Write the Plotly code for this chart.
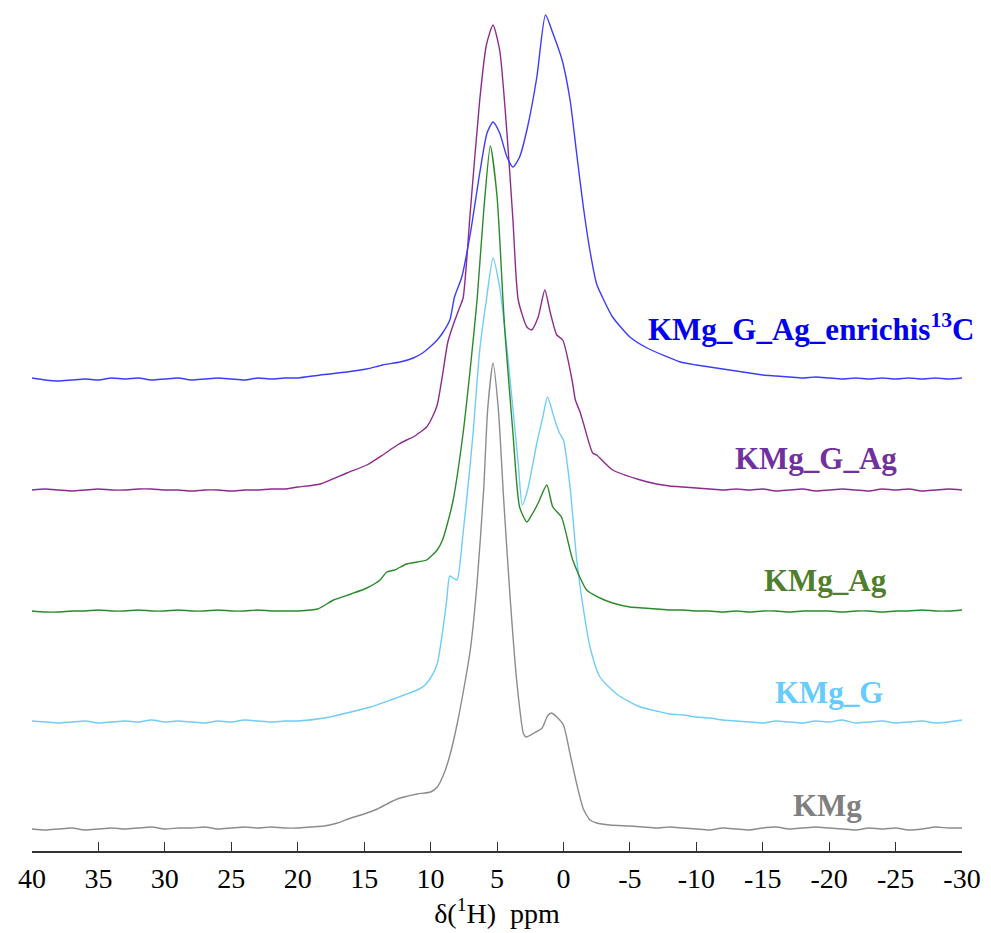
import plotly.graph_objects as go

# ---------------- data (chemical shift in ppm, intensity above each trace's baseline)
ppm_kmg = [40,39,38,37,36,35,34,33,32,31,30,29,28,27,26,25,24,23,22,21,
           20,19,18,17,16,15,14,13,12.5,12,11,10,9.5,9,8.5,8,7.5,7,6.5,6,
           5.7,5.3,4.9,4.5,4.0,3.5,3.0,2.8,2.2,1.6,1.2,0.9,0.5,0,-0.5,-1,-1.5,-2,-2.5,-3.5,
           -5,-6,-7,-8,-9,-10,-11,-12,-13,-14,-15,-16,-17,-18,-19,-20,-21,-22,-23,-24,-25,-26,-27,-28,-29,-30]
int_kmg = [0,-1,0,1,-1,0,1,0,1,2,0,1,1,2,0,1,2,1,2,1,
           1,2,3,6,11,15,20,27,30,32,35,37,42,55,76,105,140,180,246,340,
           420,466,420,330,229,146,95,92,96,101,113,116,112,104,75,45,20,9,6,4,
           3,2,1,2,1,0,-1,1,0,-1,1,2,0,1,2,1,0,-1,1,0,1,-1,0,2,1,1]

ppm_kmg_g = [40,39,38,37,36,35,34,33,32,31,30,29,28,27,26,25,24,23,22,21,
             20,18,16,14.5,13,12,11,10.5,10,9.5,9.1,8.8,8.55,8.2,8.0,7.55,7.0,6.8,6.3,5.8,
             5.3,4.8,4.6,4.2,3.8,3.4,3.1,2.7,2.0,1.55,1.2,0.65,0.3,0.0,-0.5,-1.0,-1.4,-2.0,-2.75,-4.1,-5.8,
             -7,-8,-9,-10,-11,-12,-13,-14,-15,-16,-17,-18,-19,-20,-21,-22,-23,-24,-25,-26,-27,-28,-29,-30]
int_kmg_g = [1,0,-1,0,1,-1,0,1,0,2,0,1,0,-1,1,0,2,1,0,1,
             1,4,10,15,22,27,32,36,44,58,90,120,146,143,142,189,260,289,372,422,
             464,435,415,367,313,258,217,232,279,305,325,302,289,282,235,162,122,75,45,27,15,
             11,8,7,5,4,2,1,0,-1,1,0,-1,1,0,2,-1,0,1,-1,0,1,-1,0,2]

ppm_kmg_ag = [40,39,38,37,36,35,34,33,32,31,30,29,28,27,26,25,24,23,22,21,
              20,18.5,17.3,16,14.8,13.8,13.3,12.7,11.8,11,10.3,9.5,9.1,8.8,8.3,7.55,7.0,6.5,6.0,5.5,
              5.0,4.55,4.4,3.8,3.3,2.75,2.3,1.9,1.25,0.8,0.15,-0.7,-1.75,-2.75,-3.7,-5,
              -6,-7,-8,-9,-10,-11,-12,-13,-14,-15,-16,-17,-18,-19,-20,-21,-22,-23,-24,-25,-26,-27,-28,-29,-30]
int_kmg_ag = [0,-1,-1,0,0,1,0,0,1,0,0,1,0,0,1,0,0,1,0,0,
              0,2,11,17,23,31,39,41,47,49,51,61,71,84,111,178,244,311,400,465,
              415,311,278,178,104,89,98,108,126,104,94,51,21,13,8,4,
              3,2,1,1,0,0,-1,0,-1,0,0,-1,0,0,0,-1,0,0,-1,0,0,1,0,0,1]

ppm_kmg_g_ag = [40,39,38,37,36,35,34,33,32,31,30,29,28,27,26,25,24,23,22,21,
                20,18.3,16.3,14.8,13.6,12.5,11.8,11.3,10.3,9.9,9.5,9.1,8.7,8.3,7.8,7.55,7.0,6.3,5.8,
                5.3,4.8,4.25,3.8,3.4,2.75,2.4,1.9,1.4,1.0,0.5,0.05,-0.65,-0.9,-1.25,-1.5,-2.2,-2.5,-3.7,-5.8,
                -7,-8,-9,-10,-11,-12,-13,-14,-15,-16,-17,-18,-19,-20,-21,-22,-23,-24,-25,-26,-27,-28,-29,-30]
int_kmg_g_ag = [0,1,0,-1,0,1,0,0,1,1,0,0,-1,0,0,-1,0,0,1,1,
                3,6,17,25,35,45,50,53,63,72,85,115,148,165,183,192,280,390,445,
                465,440,357,270,190,163,160,173,200,178,155,150,110,90,78,67,37,35,20,10,
                6,4,3,2,1,0,1,0,1,-1,0,1,-1,0,1,0,-1,1,0,1,-1,0,1,0]

ppm_enr = [40,39,38,37,36,35,34,33,32,31,30,29,28,27,26,25,24,23,22,21,
           20,18.3,16.3,14.8,13.6,12.3,11.3,10.6,10.05,9.5,9.1,8.55,8.2,7.65,7.0,6.3,5.75,5.3,4.8,4.25,
           3.8,3.3,2.7,2.0,1.35,0.8,0.1,-0.5,-1.0,-1.5,-2.0,-2.5,-3.0,-3.7,-5.0,-6.3,-8.8,
           -10,-11,-12,-13,-14,-15,-16,-17,-18,-19,-20,-21,-22,-23,-24,-25,-26,-27,-28,-29,-30]
int_enr = [1,-1,-2,-1,0,-1,1,0,1,-1,0,1,-1,0,1,0,-1,1,0,1,
           1,4,7,10,14,17,21,26,32,39,46,59,82,102,146,206,246,257,246,222,
           212,222,252,302,364,346,319,279,225,172,128,95,80,62,42,31,17,
           14,12,10,8,6,4,3,2,1,2,1,0,1,0,1,0,1,0,1,0,1]

names = ["KMg", "KMg_G", "KMg_Ag", "KMg_G_Ag", "KMg_G_Ag_enrichis<sup>13</sup>C"]
offsets = [22, 129, 240, 361, 472]
line_colors = ["#8c8c8c", "#6fcdf8", "#2a8a2a", "#8e2a8e", "#3c3cff"]
label_colors = ["#808080", "#66ccff", "#4f7f2c", "#7030a0", "#0000f0"]
label_x = [-19.9, -20.0, -19.7, -19.0, -18.7]
label_y = [46, 159, 271, 393, 524]
tick_vals = list(range(-30, 45, 5))

series = [(ppm_kmg, int_kmg), (ppm_kmg_g, int_kmg_g), (ppm_kmg_ag, int_kmg_ag),
          (ppm_kmg_g_ag, int_kmg_g_ag), (ppm_enr, int_enr)]

fig = go.Figure()
for (px, iy), off, col, nm in zip(series, offsets, line_colors, names):
    fig.add_trace(go.Scatter(x=px, y=[v + off for v in iy], mode="lines", name=nm,
                             line=dict(color=col, width=1.4, shape="spline", smoothing=0.6),
                             showlegend=False, hoverinfo="skip"))

for nm, lx, ly, lc in zip(names, label_x, label_y, label_colors):
    fig.add_annotation(x=lx, y=ly, text="<b>" + nm + "</b>", showarrow=False,
                       font=dict(family="Liberation Serif", size=31, color=lc),
                       xanchor="center", yanchor="middle")

# the page body adds an 8px margin, so the figure is offset by (8, 8)
fig.update_layout(
    width=991, height=933,
    margin=dict(l=24, r=37, t=0, b=90, autoexpand=False),
    paper_bgcolor="white", plot_bgcolor="white",
    font=dict(family="Liberation Serif", size=28, color="black"),
    xaxis=dict(range=[40, -30], tickvals=tick_vals, ticktext=[str(v) for v in tick_vals],
               ticks="inside", ticklen=9, tickwidth=1, tickcolor="#333",
               showline=True, linecolor="#333", linewidth=1.5, showgrid=False, zeroline=False,
               automargin=False, ticklabelstandoff=2,
               tickfont=dict(family="Liberation Serif", size=28, color="black"),
               title=dict(text="δ(<sup>1</sup>H)  ppm", standoff=0,
                          font=dict(family="Liberation Serif", size=28, color="black"))),
    yaxis=dict(range=[0, 843], visible=False, showgrid=False, zeroline=False, automargin=False),
)

fig.write_html("out.html")
